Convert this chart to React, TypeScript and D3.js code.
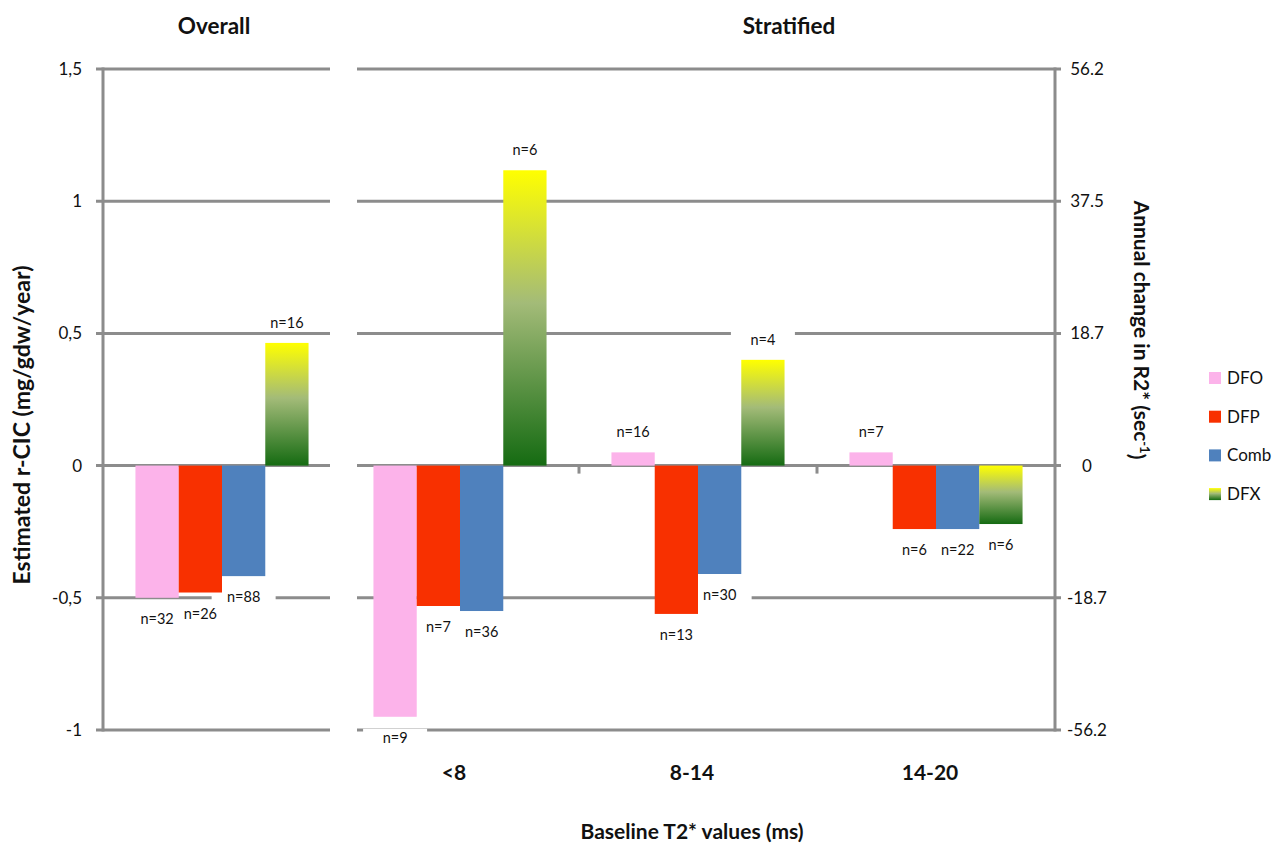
import React from "react";
import * as d3 from "d3";

const series = ["DFO", "DFP", "Comb", "DFX"];
const overallCats = ["Overall"];
const strataCats = ["<8", "8-14", "14-20"];

// values per category, order: DFO, DFP, Comb, DFX
const overallValues = [[-0.5, -0.48, -0.418, 0.464]];
const strataValues = [
  [-0.95, -0.531, -0.55, 1.117],
  [0.05, -0.561, -0.41, 0.4],
  [0.05, -0.24, -0.24, -0.221],
];
const overallN = [["n=32", "n=26", "n=88", "n=16"]];
const strataN = [
  ["n=9", "n=7", "n=36", "n=6"],
  ["n=16", "n=13", "n=30", "n=4"],
  ["n=7", "n=6", "n=22", "n=6"],
];

const leftTicks = [1.5, 1, 0.5, 0, -0.5, -1];
const leftTickLabels = ["1,5", "1", "0,5", "0", "-0,5", "-1"];
const rightTickLabels = ["56.2", "37.5", "18.7", "0", "-18.7", "-56.2"];

const colors: Record<string, string> = {
  DFO: "#fcb3ea",
  DFP: "#f83000",
  Comb: "#4f81bd",
  DFX: "url(#dfxGrad)",
};

const FONT = "Lato, 'Open Sans', sans-serif";
const GRID = "#8c8c8c";

export default function App() {
  const W = 1279, H = 844;
  const y = d3.scaleLinear().domain([-1, 1.5]).range([730, 69]);
  const xLeft = d3.scaleBand<string>().domain(overallCats).range([103, 341]);
  const xRight = d3.scaleBand<string>().domain(strataCats).range([341, 1055]);
  const inner = d3
    .scaleBand<string>()
    .domain(series)
    .range([0, xLeft.bandwidth()])
    .paddingInner(0)
    .paddingOuter(0.75);

  const leftAxisX = 103;
  const rightAxisX = 1055;
  const leftSeg: [number, number] = [96, 330];
  const rightSeg: [number, number] = [357, 1061];

  type Item = { key: string; x: number; v: number; s: string; n: string };
  const items: Item[] = [];
  const collect = (cats: string[], vals: number[][], ns: string[][], xs: d3.ScaleBand<string>, k: string) =>
    cats.forEach((c, ci) =>
      series.forEach((s, si) =>
        items.push({ key: k + c + s, x: xs(c)! + inner(s)!, v: vals[ci][si], s, n: ns[ci][si] })
      )
    );
  collect(overallCats, overallValues, overallN, xLeft, "o");
  collect(strataCats, strataValues, strataN, xRight, "s");

  const labelPos = (it: Item) => ({
    cx: it.x + inner.bandwidth() / 2,
    cy: it.v >= 0 ? y(it.v) - 20 : y(it.v) + 21,
  });

  return (
    <svg width={W} height={H} style={{ display: "block", position: "absolute", left: 0, top: 0 }}>
      <defs>
        <linearGradient id="dfxGrad" x1="0" y1="0" x2="0" y2="1">
          <stop offset="0" stopColor="#ffff00" />
          <stop offset="0.45" stopColor="#a3bb78" />
          <stop offset="1" stopColor="#156b12" />
        </linearGradient>
      </defs>
      <rect width={W} height={H} fill="#fff" />

      {/* gridlines */}
      {leftTicks.map((t) => (
        <g key={"g" + t}>
          <line x1={leftSeg[0]} x2={leftSeg[1]} y1={y(t)} y2={y(t)} stroke={GRID} strokeWidth={3} />
          <line x1={rightSeg[0]} x2={rightSeg[1]} y1={y(t)} y2={y(t)} stroke={GRID} strokeWidth={3} />
        </g>
      ))}
      {/* category ticks */}
      {strataCats.slice(1).map((c) => (
        <line
          key={"ct" + c}
          x1={xRight(c)!}
          x2={xRight(c)!}
          y1={y(0)}
          y2={y(0) + 8}
          stroke={GRID}
          strokeWidth={3}
        />
      ))}
      {/* axes */}
      <line x1={leftAxisX} x2={leftAxisX} y1={y(1.5) - 1.5} y2={y(-1) + 1.5} stroke={GRID} strokeWidth={3} />
      <line x1={rightAxisX} x2={rightAxisX} y1={y(1.5) - 1.5} y2={y(-1) + 1.5} stroke={GRID} strokeWidth={3} />

      {/* label backgrounds (under bars) */}
      {items.map((it) => {
        const { cx, cy } = labelPos(it);
        return <rect key={"bg" + it.key} x={cx - 32} y={cy - 9} width={64} height={18} fill="#fff" />;
      })}

      {/* bars */}
      {items.map((it) => (
        <rect
          key={"b" + it.key}
          x={it.x}
          y={Math.min(y(it.v), y(0))}
          width={inner.bandwidth()}
          height={Math.abs(y(it.v) - y(0))}
          fill={colors[it.s]}
        />
      ))}

      {/* labels */}
      {items.map((it) => {
        const { cx, cy } = labelPos(it);
        return (
          <text
            key={"t" + it.key}
            x={cx}
            y={cy}
            dy="0.35em"
            textAnchor="middle"
            fontFamily={FONT}
            fontSize={14.5}
            fill="#111"
          >
            {it.n}
          </text>
        );
      })}

      {/* tick labels */}
      {leftTicks.map((t, i) => (
        <text key={"lt" + t} x={82} y={y(t)} dy="0.35em" textAnchor="end" fontFamily={FONT} fontSize={17} fill="#111">
          {leftTickLabels[i]}
        </text>
      ))}
      {leftTicks.map((t, i) => (
        <text key={"rt" + t} x={1087} y={y(t)} dy="0.35em" textAnchor="middle" fontFamily={FONT} fontSize={17} fill="#111">
          {rightTickLabels[i]}
        </text>
      ))}

      {/* category labels */}
      {strataCats.map((c) => (
        <text
          key={"cl" + c}
          x={xRight(c)! + xRight.bandwidth() / 2 - 6}
          y={773}
          dy="0.35em"
          textAnchor="middle"
          fontFamily={FONT}
          fontWeight="bold"
          fontSize={21}
          fill="#111"
        >
          {c}
        </text>
      ))}

      {/* titles */}
      <text x={214} y={26} dy="0.35em" textAnchor="middle" fontFamily={FONT} fontWeight="bold" fontSize={22.5} fill="#111">
        Overall
      </text>
      <text x={789} y={26} dy="0.35em" textAnchor="middle" fontFamily={FONT} fontWeight="bold" fontSize={22.5} fill="#111">
        Stratified
      </text>
      <text x={692} y={832} dy="0.35em" textAnchor="middle" fontFamily={FONT} fontWeight="bold" fontSize={21} fill="#111">
        Baseline T2* values (ms)
      </text>
      <text
        transform="translate(22,425) rotate(-90)"
        dy="0.35em"
        textAnchor="middle"
        fontFamily={FONT}
        fontWeight="bold"
        fontSize={23}
        fill="#111"
      >
        Estimated r-CIC (mg/gdw/year)
      </text>
      <text
        transform="translate(1141,330) rotate(90)"
        dy="0.35em"
        textAnchor="middle"
        fontFamily={FONT}
        fontWeight="bold"
        fontSize={21}
        fill="#111"
      >
        Annual change in R2* (sec
        <tspan dy="-0.45em" fontSize={13}>-1</tspan>
        <tspan dy="0.45em">)</tspan>
      </text>

      {/* legend */}
      {series.map((s, i) => (
        <g key={"lg" + s} transform={`translate(1209,${372 + i * 38.7})`}>
          <rect width={12} height={12} fill={colors[s]} />
          <text x={18} y={6} dy="0.35em" fontFamily={FONT} fontSize={17} fill="#111">
            {s}
          </text>
        </g>
      ))}
    </svg>
  );
}
